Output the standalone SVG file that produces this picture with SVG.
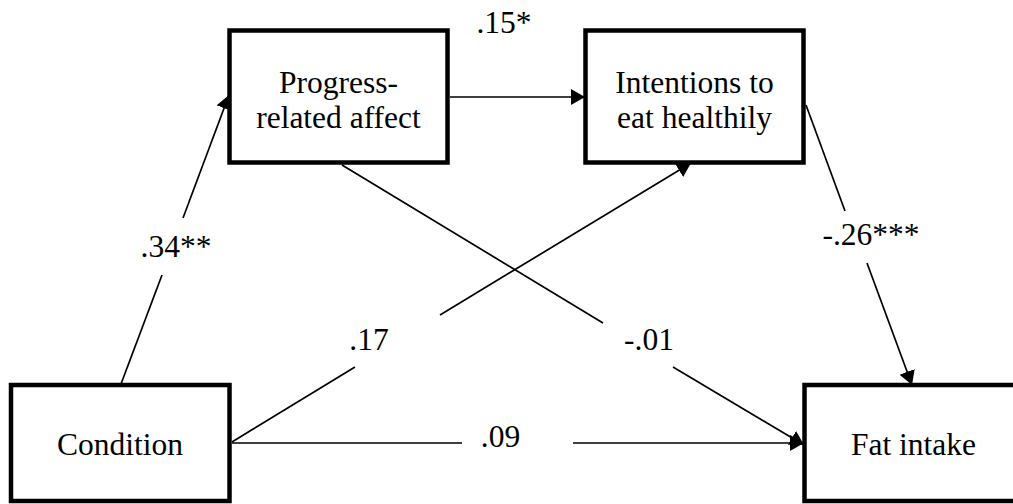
<svg xmlns="http://www.w3.org/2000/svg" width="1013" height="504" viewBox="0 0 1013 504">
<style>
  .box { fill: #ffffff; stroke: #000000; stroke-width: 4.5; }
  text { font-family: 'Liberation Serif', 'Times New Roman', Times, serif; font-size: 31.5px; fill: #000000; text-anchor: middle; }
  .edge { fill: none; stroke: #000000; stroke-width: 1.7; }
</style>
<defs>
  <marker id="arrow" markerUnits="userSpaceOnUse" markerWidth="16" markerHeight="18" refX="14" refY="8" orient="auto">
    <path d="M0,0 L14,8 L0,16 z" fill="#000000"/>
  </marker>
</defs>
<rect width="1013" height="504" fill="#ffffff"/>
<g id="connectors" font-family="Liberation Serif, serif">
  <line class="edge" x1="121" y1="384" x2="162" y2="275"/>
  <line class="edge" x1="183" y1="218" x2="229" y2="95" marker-end="url(#arrow)"/>
  <text x="176" y="257">.34**</text>
  <line class="edge" x1="450" y1="97" x2="585" y2="97" marker-end="url(#arrow)"/>
  <text x="504" y="33">.15*</text>
  <line class="edge" x1="342" y1="165" x2="603" y2="323"/>
  <line class="edge" x1="673" y1="367" x2="804" y2="445" marker-end="url(#arrow)"/>
  <text x="649" y="350">-.01</text>
  <line class="edge" x1="232" y1="442" x2="355" y2="367"/>
  <line class="edge" x1="440" y1="315" x2="691" y2="163" marker-end="url(#arrow)"/>
  <text x="369" y="350">.17</text>
  <line class="edge" x1="806" y1="105" x2="845" y2="211"/>
  <line class="edge" x1="867" y1="263" x2="912" y2="385" marker-end="url(#arrow)"/>
  <text x="871" y="245">-.26***</text>
  <line class="edge" x1="232" y1="443" x2="462" y2="443"/>
  <line class="edge" x1="573" y1="443" x2="804" y2="443" marker-end="url(#arrow)"/>
  <text x="500.5" y="447">.09</text>
</g>
<g id="node-progress">
  <rect class="box" x="229.5" y="30.5" width="218" height="132"/>
  <text x="338.5" y="93">Progress-</text>
  <text x="338.5" y="127.5">related affect</text>
</g>
<g id="node-intentions">
  <rect class="box" x="585.5" y="30.5" width="218" height="132"/>
  <text x="694.5" y="93">Intentions to</text>
  <text x="694.5" y="127.5">eat healthily</text>
</g>
<g id="node-condition">
  <rect class="box" x="11" y="385" width="218.5" height="116"/>
  <text x="120" y="455">Condition</text>
</g>
<g id="node-fat">
  <rect class="box" x="804.5" y="385" width="218" height="116"/>
  <text x="913.5" y="455">Fat intake</text>
</g>
</svg>
